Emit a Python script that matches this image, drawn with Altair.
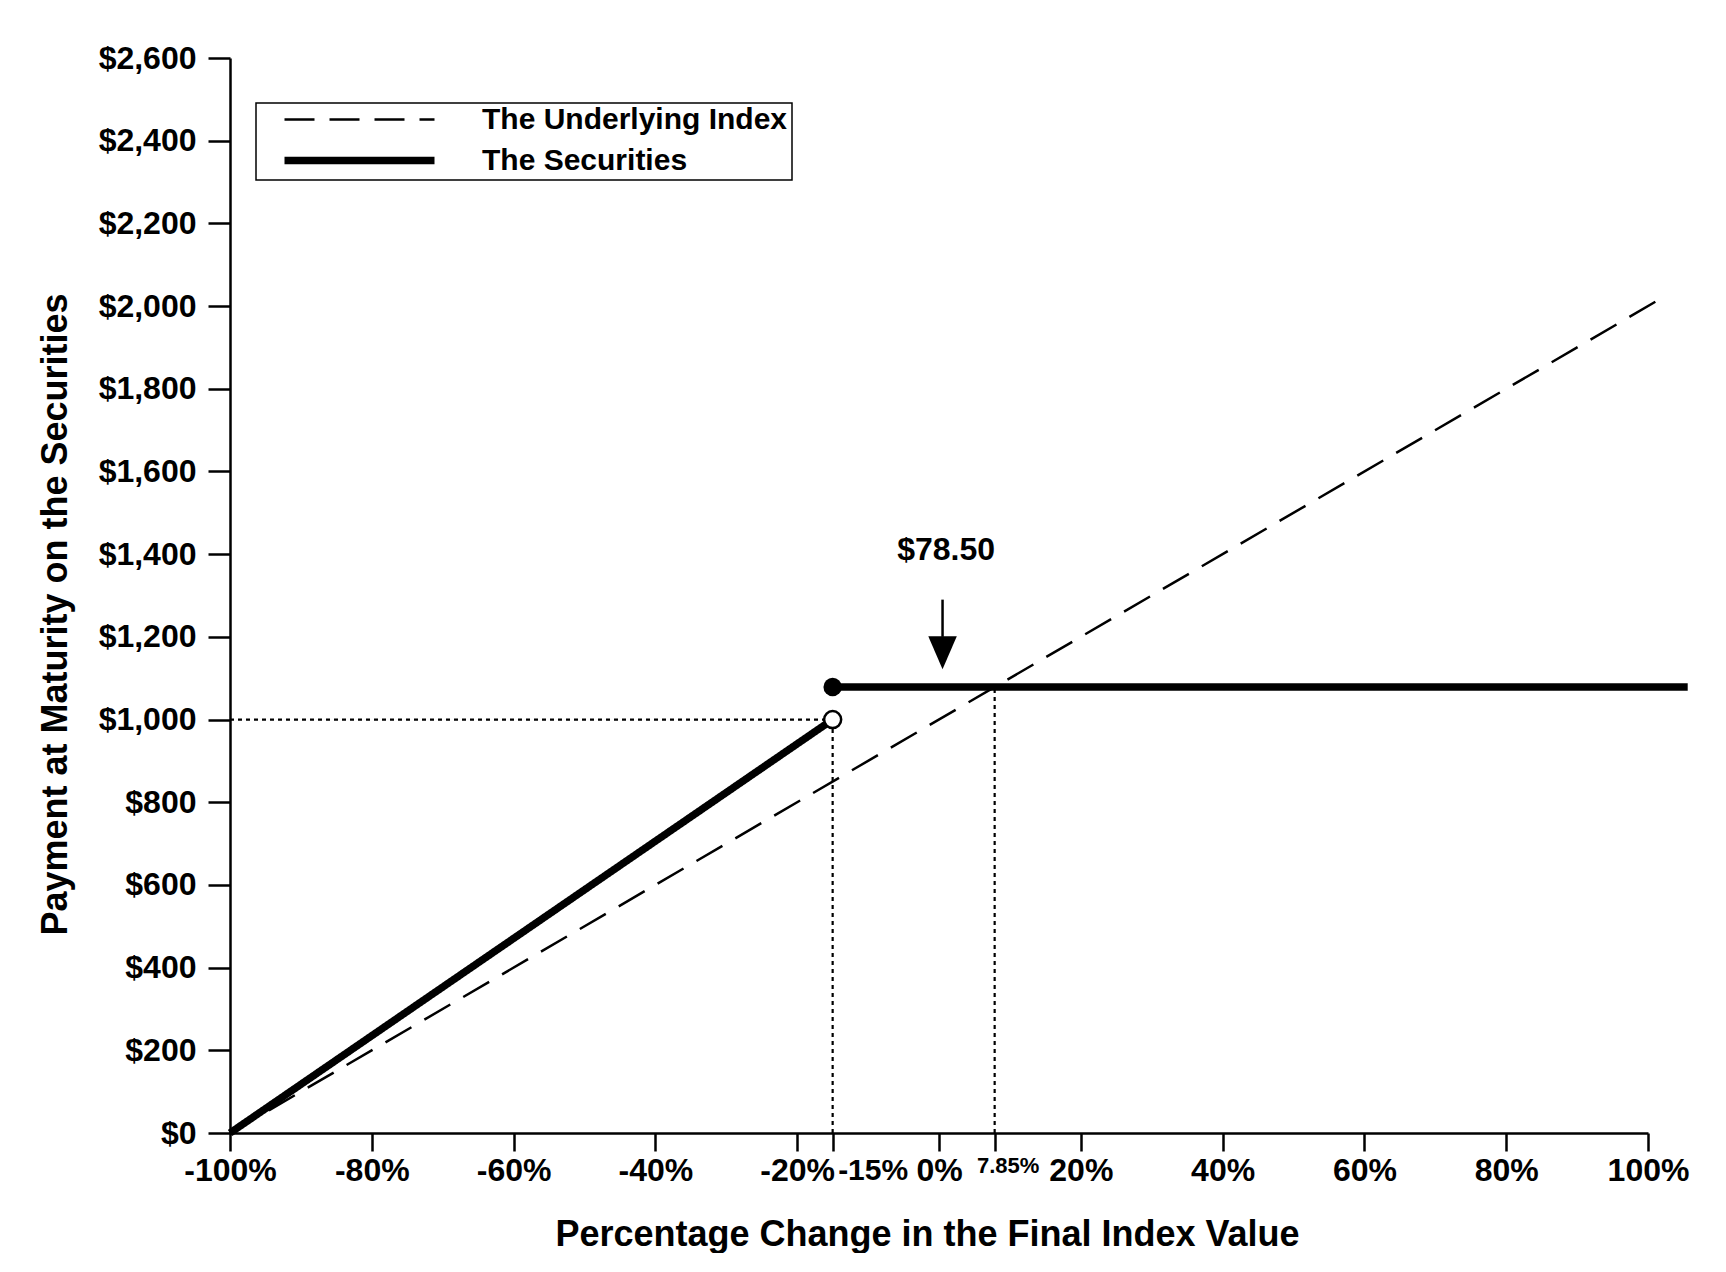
import altair as alt
import pandas as pd

# ---------------- data ----------------
series_names = ["The Underlying Index", "The Securities"]

# Underlying index (dashed): percentage change vs payment
index_x = [-100, 101.4]
index_y = [0, 2014]

# Securities (thick): two pieces
sec_low_x = [-100, -15]
sec_low_y = [0, 1000]
sec_high_x = [-15, 105.6]
sec_high_y = [1078.5, 1078.5]

# dotted reference lines
ref_x = [-15, 7.85, -100]
ref_x2 = [-15, 7.85, -15]
ref_y = [0, 0, 1000]
ref_y2 = [1000, 1078.5, 1000]

# markers
filled_x, filled_y = [-15], [1078.5]
open_x, open_y = [-15], [1000]

# annotation arrow and label
arrow_x = [0.5]
arrow_top = [1290]
arrow_base = [1200]
arrow_head_y = [1161.5]
note_text = ["$78.50"]
note_x = [1.0]
note_y = [1410]

x_ticks = [-100, -80, -60, -40, -20, -15, 0, 7.85, 20, 40, 60, 80, 100]
y_ticks = list(range(0, 2601, 200))

X_TITLE = "Percentage Change in the Final Index Value"
Y_TITLE = "Payment at Maturity on the Securities"
FONT = "Liberation Sans"

# ---------------- tables ----------------
lines_df = pd.DataFrame({
    "x": index_x + sec_low_x + sec_high_x,
    "y": index_y + sec_low_y + sec_high_y,
    "series": [series_names[0]] * 2 + [series_names[1]] * 4,
    "segment": ["idx"] * 2 + ["low"] * 2 + ["high"] * 2,
})
ref_df = pd.DataFrame({"x": ref_x, "x2": ref_x2, "y": ref_y, "y2": ref_y2})
filled_df = pd.DataFrame({"x": filled_x, "y": filled_y})
open_df = pd.DataFrame({"x": open_x, "y": open_y})
arrow_df = pd.DataFrame({"x": arrow_x, "y": arrow_top, "y2": arrow_base})
head_df = pd.DataFrame({"x": arrow_x, "y": arrow_head_y})
note_df = pd.DataFrame({"x": note_x, "y": note_y, "t": note_text})

# ---------------- scales / axes ----------------
x_scale = alt.Scale(domain=[-100, 100], nice=False, zero=False)
y_scale = alt.Scale(domain=[0, 2600], nice=False)

x_axis = alt.Axis(
    values=x_ticks,
    labelExpr="datum.value + '%'",
    labelFontSize={"condition": [{"test": "datum.value == 7.85", "value": 22},
                                 {"test": "datum.value == -15", "value": 30}],
                   "value": 32},
    labelOffset={"condition": [{"test": "datum.value == 7.85", "value": 13},
                               {"test": "datum.value == -15", "value": 40}],
                 "value": 0},
    labelOverlap=False, labelFlush=False, grid=False,
    tickSize=18, tickWidth=2.5, domainWidth=2.5,
    labelPadding=4, titlePadding=31, titleX=697,
)
y_axis = alt.Axis(
    values=y_ticks,
    labelExpr="'$' + format(datum.value, ',')",
    labelFontSize=32, labelOverlap=False, grid=False,
    tickSize=22, tickWidth=2.5, domainWidth=2.5,
    labelPadding=12, titlePadding=24, titleY=556,
)


def X(field):
    return alt.X(field, type="quantitative", scale=x_scale, axis=x_axis, title=X_TITLE)


def Y(field):
    return alt.Y(field, type="quantitative", scale=y_scale, axis=y_axis, title=Y_TITLE)


legend = alt.Legend(title=None)

rules = alt.Chart(ref_df).mark_rule(color="black", strokeWidth=2.2, strokeDash=[4, 4]).encode(
    x=X("x"), x2="x2", y=Y("y"), y2="y2"
)

lines = alt.Chart(lines_df).mark_line(color="black").encode(
    x=X("x"),
    y=Y("y"),
    detail="segment:N",
    strokeDash=alt.StrokeDash("series:N",
                              scale=alt.Scale(type="ordinal", domain=series_names, range=[[30, 15], [1, 0]]),
                              legend=legend),
    strokeWidth=alt.StrokeWidth("series:N",
                                scale=alt.Scale(type="ordinal", domain=series_names, range=[2.5, 7.5]),
                                legend=legend),
)

filled = alt.Chart(filled_df).mark_point(shape="circle", filled=True, color="black", size=340, opacity=1).encode(
    x=X("x"), y=Y("y")
)
opened = alt.Chart(open_df).mark_point(shape="circle", filled=True, fill="white", stroke="black",
                                       strokeWidth=2.5, size=290, opacity=1).encode(
    x=X("x"), y=Y("y")
)
arrow = alt.Chart(arrow_df).mark_rule(color="black", strokeWidth=2.5).encode(
    x=X("x"), y=Y("y"), y2="y2"
)
head = alt.Chart(head_df).mark_point(shape="M-0.86,-1L0.86,-1L0,1Z", filled=True, color="black",
                                     size=1100, opacity=1).encode(
    x=X("x"), y=Y("y")
)
note = alt.Chart(note_df).mark_text(font=FONT, fontSize=32, fontWeight="bold", color="black",
                                    align="center", baseline="middle").encode(
    x=X("x"), y=Y("y"), text="t:N"
)

chart = alt.layer(rules, lines, filled, opened, arrow, head, note).properties(
    width=1418, height=1075,
    padding={"left": 222, "top": 50, "right": 60, "bottom": 120},
    autosize=alt.AutoSizeParams(type="none"),
    background="white",
).configure_view(stroke=None).configure_axis(
    labelFont=FONT, labelFontWeight="bold", labelColor="black",
    titleFont=FONT, titleFontWeight="bold", titleFontSize=36, titleColor="black",
    domainColor="black", tickColor="black",
).configure_legend(
    orient="none", legendX=26, legendY=45,
    strokeColor="black", strokeWidth=1.5, fillColor="white", padding=4,
    symbolType="stroke", symbolSize=22500, symbolStrokeColor="black",
    clipHeight=25, rowPadding=10, symbolOffset=20.5, labelOffset=43.5,
    labelFont=FONT, labelFontSize=30, labelFontWeight="bold", labelColor="black", labelLimit=0,
)

chart.save("out.html", embed_options={"renderer": "svg", "actions": False})
